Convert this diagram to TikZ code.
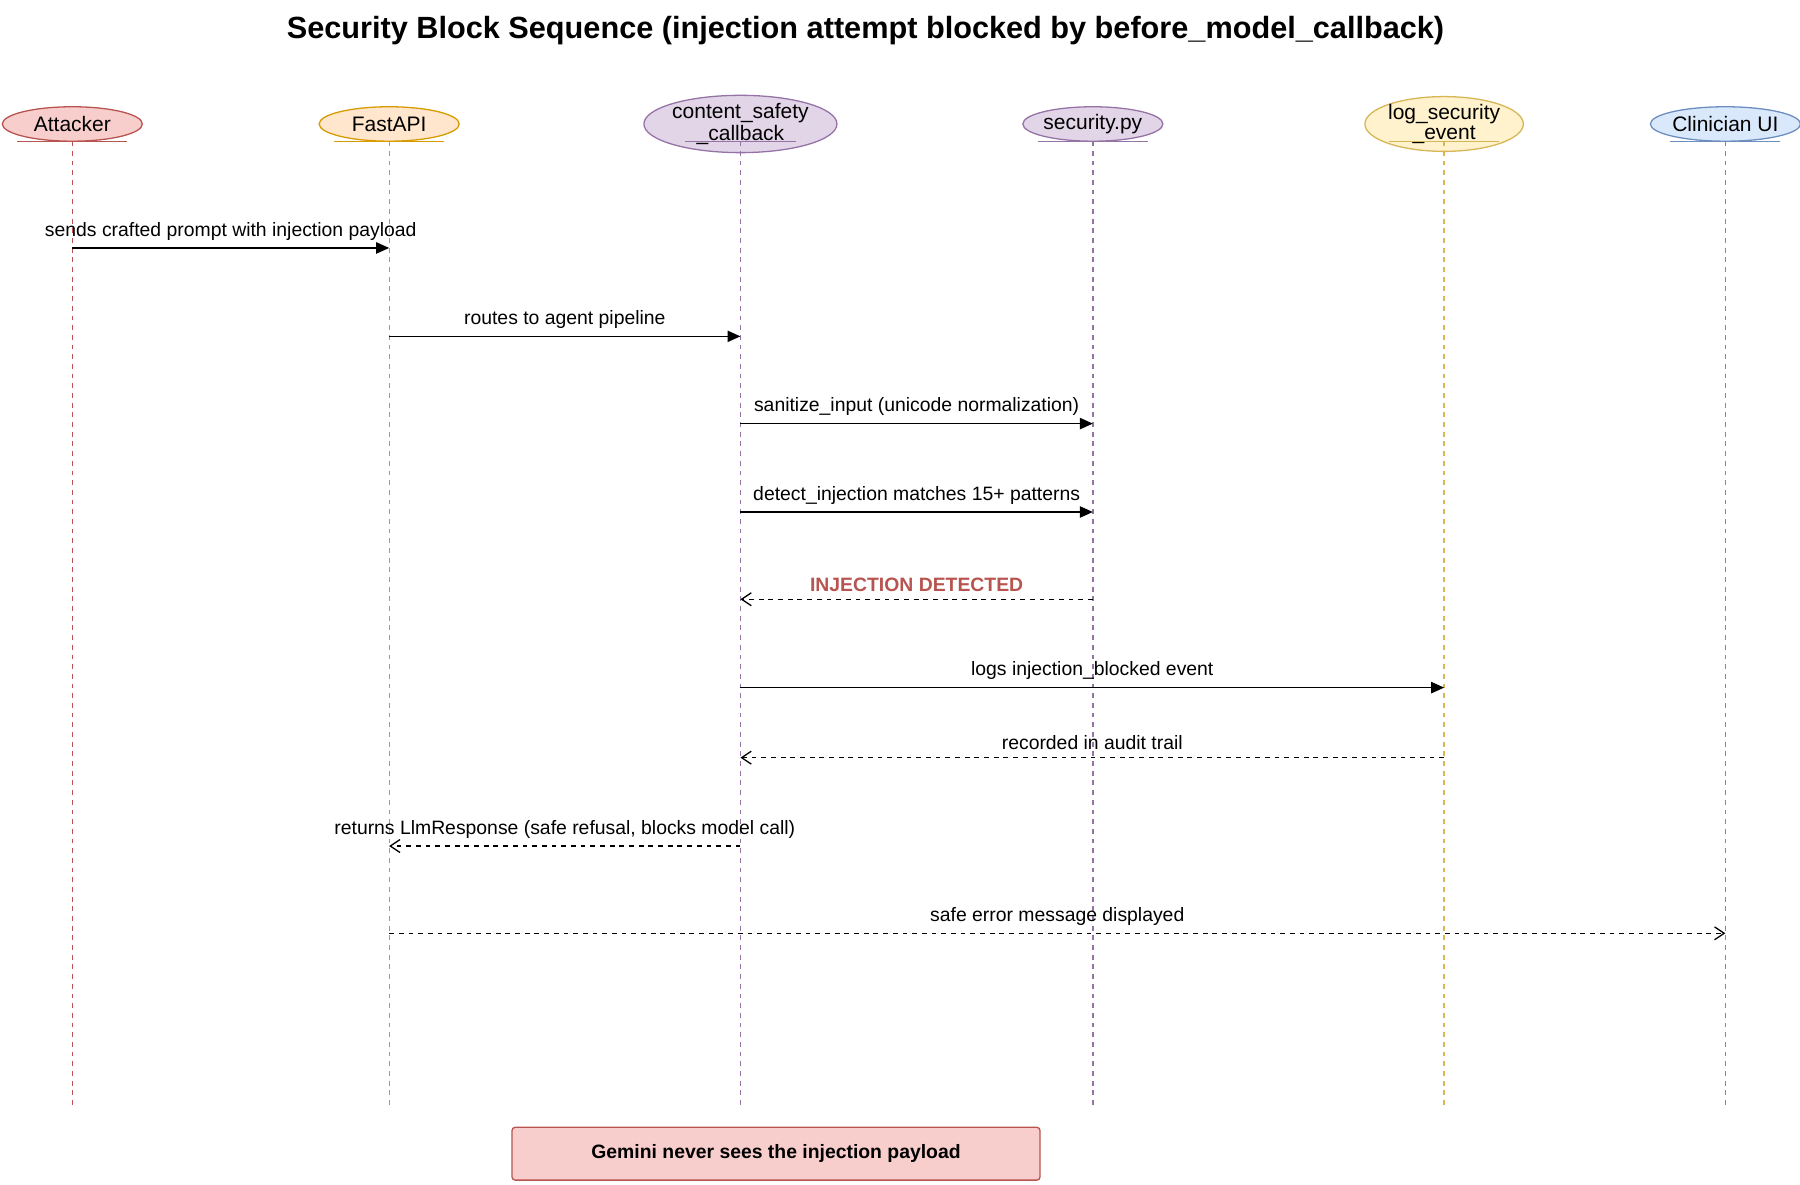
\documentclass[tikz,border=0pt]{standalone}
\usepackage{fontspec}
\setmainfont{Liberation Sans}
\usetikzlibrary{shapes.geometric,arrows.meta}
\definecolor{redF}{HTML}{F8CECC}\definecolor{redS}{HTML}{B85450}
\definecolor{orgF}{HTML}{FFE6CC}\definecolor{orgS}{HTML}{D79B00}
\definecolor{purF}{HTML}{E1D5E7}\definecolor{purS}{HTML}{9673A6}
\definecolor{yelF}{HTML}{FFF2CC}\definecolor{yelS}{HTML}{D6B656}
\definecolor{bluF}{HTML}{DAE8FC}\definecolor{bluS}{HTML}{6C8EBF}
\tikzset{
  actor/.style={ellipse, draw=#1S, fill=#1F, thick, minimum width=122\un, minimum height=30\un, inner sep=0pt, font=\fontsize{13}{12}\selectfont, align=center},
  life/.style={dashed, thick, draw=#1S},
  msg/.style={-{Triangle[length=8pt,width=7pt]}, thick},
  ret/.style={-{Straight Barb[length=6pt,width=8pt]}, thick, dashed},
  lbl/.style={font=\fontsize{12}{12}\selectfont, above=1pt, midway}
}
\newcommand\un{*0.025cm}
\begin{document}
\begin{tikzpicture}[x=0.025cm,y=-0.025cm]
\useasboundingbox (0,0) rectangle (1568,1032);
\node[font=\bfseries\fontsize{19}{20}\selectfont] (title) at (754,27) {Security Block Sequence (injection attempt blocked by before\_model\_callback)};
% participants
\foreach \n/\x/\c/\t in {att/63/red/Attacker, api/339/org/FastAPI, cb/645/pur/{content\_safety\\\_callback}, sec/952/pur/security.py, log/1258/yel/{log\_security\\\_event}, ui/1503/blu/Clinician UI}{
  \node[actor=\c] (\n) at (\x,108) {\t};
  \draw[\c S, thick] (\x-48,123) -- (\x+48,123);
  \coordinate (\n top) at (\x,123);
  \coordinate (\n bot) at (\x,965);
  \draw[life=\c] (\n top) -- (\n bot);
}
% messages
\foreach \a/\b/\y/\k in {att/api/216/0, api/cb/293/0, cb/sec/369/0, cb/sec/446/0, sec/cb/522/1, cb/log/599/0, log/cb/660/1, cb/api/737/1, api/ui/813/1}{
  \coordinate (\a\y) at (\a |- 0,\y);
  \coordinate (\b\y) at (\b |- 0,\y);
}
\draw[msg] (att216) -- node[lbl]{sends crafted prompt with injection payload} (api216);
\draw[msg] (api293) -- node[lbl]{routes to agent pipeline} (cb293);
\draw[msg] (cb369) -- node[lbl]{sanitize\_input (unicode normalization)} (sec369);
\draw[msg] (cb446) -- node[lbl]{detect\_injection matches 15+ patterns} (sec446);
\draw[ret] (sec522) -- node[lbl, text=redS, font=\bfseries\fontsize{12}{12}\selectfont]{INJECTION DETECTED} (cb522);
\draw[msg] (cb599) -- node[lbl]{logs injection\_blocked event} (log599);
\draw[ret] (log660) -- node[lbl]{recorded in audit trail} (cb660);
\draw[ret] (cb737) -- node[lbl]{returns LlmResponse (safe refusal, blocks model call)} (api737);
\draw[ret] (api813) -- node[lbl]{safe error message displayed} (ui813);
% note
\node[draw=redS, fill=redF, thick, rounded corners=2pt, minimum width=460\un, minimum height=46\un, font=\bfseries\fontsize{12}{12}\selectfont] (note) at (676,1005) {Gemini never sees the injection payload};
\end{tikzpicture}
\end{document}
